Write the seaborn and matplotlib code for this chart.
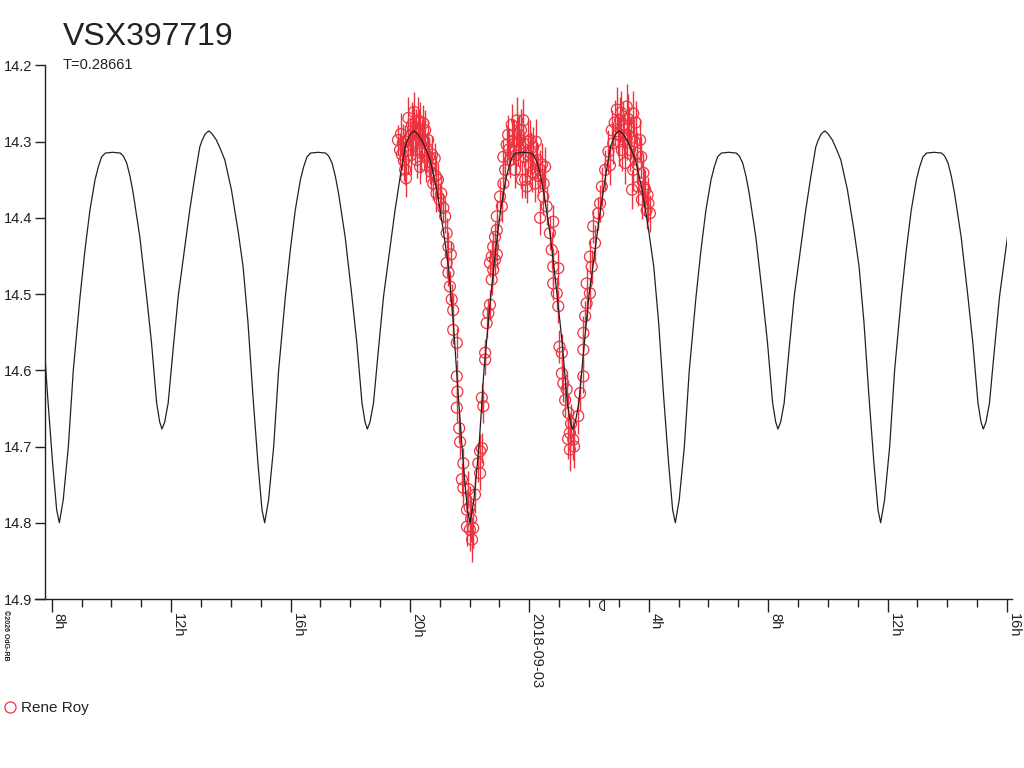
import numpy as np
import matplotlib
matplotlib.use("Agg")
import matplotlib.pyplot as plt
from matplotlib.lines import Line2D
from matplotlib.path import Path
from matplotlib.patches import Rectangle
from matplotlib.ticker import MultipleLocator
import matplotlib.transforms as mtransforms
import seaborn as sns

# ---- data ----
star = "VSX397719"
period_days = 0.28661
epoch_hour = -15.745      # primary minimum, hours from 2018-09-03 00:00
observer = "Rene Roy"
moon_hour = 2.5

# one cycle of the model light curve (phase, magnitude)
phase = [0.000, 0.019, 0.044, 0.068, 0.101, 0.125, 0.149, 0.174, 0.190, 0.206,
         0.224, 0.260, 0.297, 0.312, 0.328, 0.344, 0.360, 0.392, 0.425, 0.449,
         0.474, 0.489, 0.500, 0.513, 0.530, 0.554, 0.579, 0.611, 0.635, 0.660,
         0.684, 0.696, 0.708, 0.718, 0.729, 0.745, 0.765, 0.785, 0.806, 0.838,
         0.870, 0.895, 0.919, 0.943, 0.967, 0.987]
phase_mag = [14.800, 14.770, 14.700, 14.600, 14.503, 14.442, 14.390, 14.350, 14.333, 14.320,
             14.315, 14.314, 14.315, 14.319, 14.328, 14.345, 14.368, 14.425, 14.503, 14.564,
             14.643, 14.668, 14.677, 14.668, 14.643, 14.573, 14.503, 14.438, 14.390, 14.346,
             14.307, 14.298, 14.291, 14.288, 14.286, 14.290, 14.298, 14.310, 14.324, 14.363,
             14.416, 14.464, 14.538, 14.634, 14.721, 14.783]

# observations (hours from 2018-09-03 00:00, magnitude, error)
obs_hours = [-4.40, -4.33, -4.27, -4.24, -4.16, -4.16, -4.13, -4.05, -4.00, -3.93,
             -3.93, -3.86, -3.80, -3.77, -3.73, -3.66, -3.66, -3.59, -3.55, -3.49,
             -3.46, -3.43, -3.39, -3.33, -3.26, -3.22, -3.17, -3.11, -3.06, -3.00,
             -2.88, -2.82, -2.77, -2.77, -2.71, -2.71, -2.66, -2.63, -2.60, -2.55,
             -2.55, -2.43, -2.43, -2.43, -2.41, -2.35, -2.32, -2.26, -2.21, -2.21,
             -2.09, -2.09, -2.04, -1.99, -1.92, -1.88, -1.82, -1.71, -1.65, -1.65,
             -1.59, -1.59, -1.54, -1.48, -1.48, -1.43, -1.37, -1.32, -1.32, -1.26,
             -1.26, -1.21, -1.21, -1.15, -1.15, -1.09, -1.09, -1.09, -0.98, -0.92,
             -0.87, -0.87, -0.81, -0.76, -0.71, -0.65, -0.59, -0.51, -0.48, -0.41,
             -0.35, -0.31, -0.25, -0.20, -0.20, -0.14, -0.09, -0.04, 0.02, 0.02,
             0.13, 0.19, 0.26, 0.36, 0.36, 0.47, 0.53, 0.58, 0.69, 0.75,
             0.80, 0.80, 0.80, 0.92, 0.97, 0.97, 1.01, 1.09, 1.09, 1.14,
             1.20, 1.25, 1.31, 1.36, 1.36, 1.47, 1.64, 1.70, 1.81, 1.81,
             1.81, 1.87, 1.92, 1.92, 2.03, 2.03, 2.09, 2.14, 2.20, 2.31,
             2.37, 2.43, 2.54, 2.65, 2.70, 2.76, 2.81, 2.93, 2.97, 3.04,
             3.10, 3.14, 3.21, 3.26, 3.26, 3.34, 3.37, 3.44, 3.48, 3.48,
             3.60, 3.65, 3.71, 3.77, 3.82, 3.88, 3.93, 3.99, 4.04,
             -4.30, -4.20, -4.08, -3.98, -3.90, -3.83, -3.70, -3.62, -3.52, -3.36,
             -3.29, -3.14, -2.95, -0.68, -0.55, -0.45, -0.38, -0.28, -0.16, -0.06,
             0.06, 0.10, 0.22, 0.30, 0.42, 0.48, 2.86, 3.00, 3.07, 3.18,
             3.30, 3.40, 3.52, 3.56, 3.62, 3.75, 3.85, 3.96, -1.95, -2.00,
             1.40, 1.50, 1.30]
obs_mag = [14.298, 14.311, 14.317, 14.302, 14.300, 14.337, 14.348, 14.269, 14.293, 14.278,
           14.304, 14.261, 14.285, 14.324, 14.272, 14.274, 14.333, 14.298, 14.276, 14.285,
           14.331, 14.311, 14.298, 14.333, 14.317, 14.355, 14.322, 14.368, 14.350, 14.376,
           14.387, 14.398, 14.420, 14.459, 14.438, 14.472, 14.490, 14.448, 14.507, 14.521,
           14.547, 14.564, 14.608, 14.649, 14.628, 14.676, 14.694, 14.743, 14.722, 14.754,
           14.783, 14.805, 14.756, 14.809, 14.822, 14.807, 14.763, 14.722, 14.735, 14.706,
           14.702, 14.636, 14.647, 14.586, 14.577, 14.538, 14.525, 14.514, 14.459, 14.481,
           14.451, 14.468, 14.438, 14.455, 14.425, 14.448, 14.416, 14.398, 14.372, 14.385,
           14.355, 14.320, 14.337, 14.304, 14.291, 14.324, 14.278, 14.298, 14.337, 14.272,
           14.291, 14.311, 14.350, 14.272, 14.302, 14.350, 14.359, 14.317, 14.298, 14.331,
           14.307, 14.355, 14.324, 14.337, 14.400, 14.372, 14.333, 14.385, 14.420, 14.442,
           14.405, 14.464, 14.486, 14.499, 14.466, 14.516, 14.569, 14.577, 14.604, 14.617,
           14.639, 14.625, 14.656, 14.682, 14.704, 14.691, 14.660, 14.630, 14.608, 14.573,
           14.551, 14.529, 14.512, 14.486, 14.499, 14.451, 14.464, 14.411, 14.433, 14.394,
           14.381, 14.359, 14.337, 14.313, 14.331, 14.285, 14.302, 14.258, 14.291, 14.272,
           14.311, 14.278, 14.328, 14.254, 14.296, 14.282, 14.311, 14.363, 14.263, 14.337,
           14.315, 14.359, 14.298, 14.376, 14.341, 14.363, 14.390, 14.381, 14.394,
           14.290, 14.325, 14.312, 14.318, 14.285, 14.300, 14.290, 14.315, 14.300, 14.320,
           14.340, 14.345, 14.368, 14.310, 14.300, 14.318, 14.300, 14.285, 14.320, 14.300,
           14.315, 14.340, 14.300, 14.345, 14.330, 14.355, 14.275, 14.300, 14.262, 14.292,
           14.270, 14.295, 14.300, 14.275, 14.330, 14.320, 14.360, 14.370, 14.795, 14.780,
           14.670, 14.700, 14.690]
obs_err = [0.020, 0.022, 0.020, 0.025, 0.022, 0.020, 0.024, 0.028, 0.025, 0.030,
           0.022, 0.026, 0.028, 0.024, 0.030, 0.026, 0.022, 0.028, 0.024, 0.026,
           0.022, 0.024, 0.026, 0.022, 0.024, 0.022, 0.020, 0.024, 0.022, 0.022,
           0.020, 0.022, 0.020, 0.018, 0.020, 0.018, 0.020, 0.018, 0.020, 0.020,
           0.018, 0.020, 0.022, 0.020, 0.018, 0.020, 0.022, 0.022, 0.020, 0.024,
           0.024, 0.026, 0.024, 0.028, 0.030, 0.026, 0.024, 0.024, 0.022, 0.022,
           0.020, 0.020, 0.022, 0.020, 0.018, 0.020, 0.018, 0.020, 0.018, 0.020,
           0.020, 0.018, 0.020, 0.018, 0.020, 0.018, 0.020, 0.022, 0.022, 0.020,
           0.024, 0.022, 0.024, 0.026, 0.026, 0.024, 0.028, 0.026, 0.024, 0.030,
           0.026, 0.026, 0.024, 0.028, 0.026, 0.024, 0.022, 0.026, 0.026, 0.024,
           0.026, 0.024, 0.024, 0.026, 0.022, 0.024, 0.026, 0.024, 0.022, 0.024,
           0.022, 0.024, 0.022, 0.022, 0.024, 0.022, 0.022, 0.024, 0.022, 0.024,
           0.022, 0.024, 0.026, 0.026, 0.028, 0.026, 0.024, 0.024, 0.022, 0.022,
           0.022, 0.020, 0.022, 0.020, 0.020, 0.022, 0.022, 0.022, 0.024, 0.022,
           0.024, 0.026, 0.026, 0.028, 0.026, 0.026, 0.028, 0.030, 0.028, 0.030,
           0.028, 0.030, 0.028, 0.030, 0.028, 0.028, 0.028, 0.026, 0.030, 0.028,
           0.028, 0.026, 0.028, 0.026, 0.026, 0.026, 0.024, 0.024, 0.024,
           0.028, 0.026, 0.030, 0.026, 0.032, 0.028, 0.030, 0.026, 0.028, 0.026,
           0.024, 0.026, 0.024, 0.028, 0.030, 0.026, 0.032, 0.028, 0.026, 0.030,
           0.028, 0.026, 0.030, 0.026, 0.028, 0.024, 0.030, 0.032, 0.028, 0.030,
           0.032, 0.028, 0.030, 0.028, 0.026, 0.028, 0.026, 0.024, 0.030, 0.028,
           0.026, 0.028, 0.026]

tick_hours = [-16, -12, -8, -4, 0, 4, 8, 12, 16]
tick_labels = ["8h", "12h", "16h", "20h", "2018-09-03", "4h", "8h", "12h", "16h"]
mag_ticks = [14.2, 14.3, 14.4, 14.5, 14.6, 14.7, 14.8, 14.9]

x_lim = (-16.56, 16.17)
y_axis_at = -16.22
model_end = 16.0

red = "#ee3340"
ink = "#222222"

sns.set_style("ticks")
plt.rcParams["font.family"] = ["Liberation Sans", "DejaVu Sans"]

fig = plt.figure(figsize=(10.24, 7.68), dpi=100)
ax = fig.add_axes([35 / 1024, 1 - 599 / 768, (1012 - 35) / 1024, (599 - 65.4) / 768])

# model: the one-cycle profile repeated with the period
period_h = period_days * 24
cycles = np.arange(-1, 5)
model_t = np.concatenate([epoch_hour + (c + np.array(phase)) * period_h for c in cycles])
model_m = np.tile(phase_mag, len(cycles))

ax.errorbar(obs_hours, obs_mag, yerr=obs_err, fmt="none", ecolor=red,
            elinewidth=1.0, capsize=0, zorder=3)
sns.scatterplot(x=obs_hours, y=obs_mag, ax=ax, marker="o", s=62,
                facecolors="none", edgecolor=red, linewidth=0.9, zorder=4)
sns.lineplot(x=model_t, y=model_m, ax=ax, color=ink, lw=0.9,
             sort=False, estimator=None, zorder=5)
clip = Rectangle((y_axis_at, 14.2), model_end - y_axis_at, 0.7,
                 transform=ax.transData)
ax.lines[-1].set_clip_path(clip)

ax.set_xlim(*x_lim)
ax.set_ylim(14.9, 14.2)
ax.set_xlabel("")
ax.set_ylabel("")

ax.set_xticks(tick_hours)
ax.set_xticklabels(tick_labels, rotation=270, ha="left", va="top")
ax.xaxis.set_minor_locator(MultipleLocator(1))
ax.set_yticks(mag_ticks)
ax.set_yticklabels([f"{m:.1f}" for m in mag_ticks])
for lab in ax.get_yticklabels():
    lab.set_va("bottom")

ax.tick_params(axis="x", which="major", length=9.4, width=1, pad=1,
               labelsize=10.5, color=ink, labelcolor=ink)
ax.tick_params(axis="x", which="minor", length=5.8, width=1, color=ink)
ax.tick_params(axis="y", length=7.2, width=1, pad=2, labelsize=10.5,
               color=ink, labelcolor=ink)

for side in ["top", "right"]:
    ax.spines[side].set_visible(False)
ax.spines["left"].set_position(("data", y_axis_at))
for side in ["left", "bottom"]:
    ax.spines[side].set_color(ink)
    ax.spines[side].set_linewidth(1)

# moon marker under the axis
half_moon = Path.arc(90, 270)
half_moon = Path(np.vstack([half_moon.vertices, half_moon.vertices[:1]]))
trans = mtransforms.blended_transform_factory(ax.transData, ax.transAxes)
ax.plot([moon_hour], [-0.012], transform=trans, marker=half_moon, ms=7,
        mfc="none", mec=ink, mew=0.8, ls="none", clip_on=False)

fig.text(63 / 1024, 1 - 45 / 768, star, fontsize=23, color=ink, va="baseline")
fig.text(63 / 1024, 1 - 69 / 768, f"T={period_days}", fontsize=10.5,
         color=ink, va="baseline")
fig.text(0.002, 1 - 610 / 768, "\u00a92026 OdG-RB", rotation=270, fontsize=5,
         fontweight="bold", color=ink, va="top", ha="left")

handle = Line2D([], [], marker="o", ls="none", mfc="none", mec=red, ms=8,
                mew=0.9, label=observer)
fig.legend(handles=[handle], loc="center left", bbox_to_anchor=(4 / 1024, 1 - 708 / 768),
           frameon=False, fontsize=11, handlelength=0.8, handletextpad=0.3,
           borderpad=0, borderaxespad=0, labelcolor=ink)

fig.savefig("out.png", dpi=100)
